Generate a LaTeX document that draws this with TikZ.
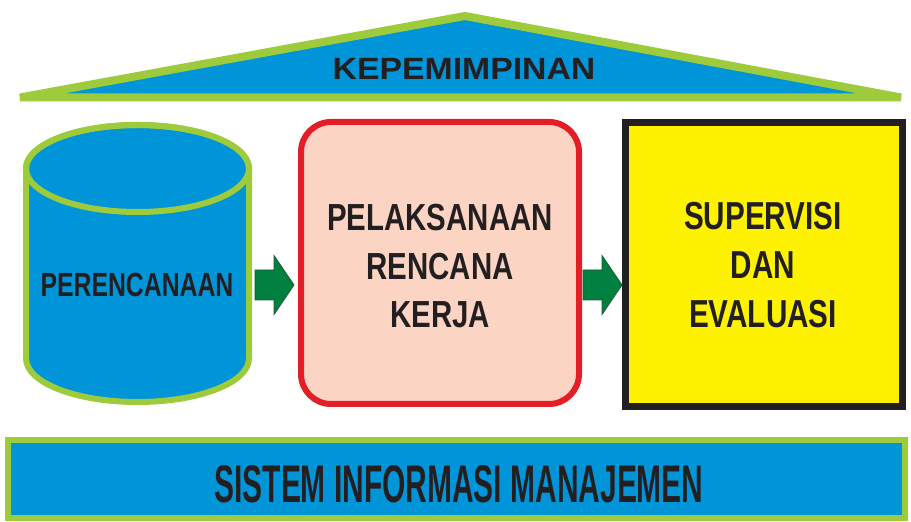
\documentclass[tikz,border=0pt]{standalone}
\usepackage{fontspec}
\usetikzlibrary{calc}
\newfontfamily\fRoof{Liberation Sans}[FakeStretch=1.1]
\newfontfamily\fPel{Liberation Sans}[FakeStretch=0.78]
\newfontfamily\fSup{Liberation Sans}[FakeStretch=0.76]
\newfontfamily\fPer{Liberation Sans}[FakeStretch=0.74]
\newfontfamily\fSim{Liberation Sans}[FakeStretch=0.565]
\definecolor{cblue}{HTML}{0094D8}
\definecolor{cgreen}{HTML}{9DCB3C}
\definecolor{cred}{HTML}{E41E26}
\definecolor{cpeach}{HTML}{FCD4C4}
\definecolor{cyellow}{HTML}{FFF200}
\definecolor{cblack}{HTML}{231F20}
\definecolor{carrow}{HTML}{00803F}
\definecolor{carrowline}{HTML}{1E5A36}
\tikzset{
  label/.style={inner sep=0pt, text=cblack, align=center},
  blockarrow/.style={fill=carrow, draw=carrowline, line width=0.8pt, line join=miter},
}
\newcommand{\bigarrow}[2]{%
  \draw[blockarrow] ($(#1)+(0,15)$) -- ($(#2)+(-20,15)$) -- ($(#2)+(-20,29.5)$) -- (#2)
    -- ($(#2)+(-20,-29.5)$) -- ($(#2)+(-20,-15)$) -- ($(#1)+(0,-15)$) -- cycle;}
\begin{document}
\begin{tikzpicture}[x=1pt,y=1pt]
\useasboundingbox[fill=white] (0,0) rectangle (911,522);
% roof
\draw[fill=cblue, draw=cgreen, line width=8pt, line join=bevel]
  (20,424.5) -- (465,506) -- (901,424.5) -- cycle;
\node[label, font=\fRoof\bfseries\fontsize{30.7}{36}\selectfont] (roof) at (464,453) {KEPEMIMPINAN};
% cylinder
\draw[fill=cblue, draw=cgreen, line width=6pt]
  (26,353.5) -- (26,163.5) arc[start angle=180, end angle=360, x radius=111.5, y radius=43.5]
  -- (249,353.5) arc[start angle=0, end angle=180, x radius=111.5, y radius=43.5] -- cycle;
\draw[draw=cgreen, line width=6pt] (137.5,353.5) ellipse[x radius=111.5, y radius=43.5];
\node[label, font=\fPer\bfseries\fontsize{33.5}{40}\selectfont] (per) at (137,237) {PERENCANAAN};
\coordinate (cylR) at (255,237);
% pelaksanaan box
\node[draw=cred, fill=cpeach, line width=6pt, rounded corners=30pt,
      minimum width=278pt, minimum height=282pt, inner sep=0pt] (pel) at (440,259) {};
\node[label, font=\fPel\bfseries\fontsize{37.7}{48.5}\selectfont] (peltext) at (440,255.5)
  {PELAKSANAAN\\RENCANA\\KERJA};
% supervisi box
\node[draw=cblack, fill=cyellow, line width=7pt,
      minimum width=277pt, minimum height=284pt, inner sep=0pt] (sup) at (764,257.5) {};
\node[label, font=\fSup\bfseries\fontsize{39}{49}\selectfont] (suptext) at (763,257)
  {SUPERVISI\\DAN\\EVALUASI};
% arrows
\coordinate (a1e) at (294,237);
\coordinate (a2s) at (583,237);
\coordinate (a2e) at (622,237);
\bigarrow{cylR}{a1e}
\bigarrow{a2s}{a2e}
% bottom bar
\node[draw=cgreen, fill=cblue, line width=6pt,
      minimum width=897pt, minimum height=78pt, inner sep=0pt] (bar) at (456.5,43) {};
\node[label, font=\fSim\bfseries\fontsize{53}{60}\selectfont] (bartext) at (459,38)
  {SISTEM INFORMASI MANAJEMEN};
\end{tikzpicture}
\end{document}
